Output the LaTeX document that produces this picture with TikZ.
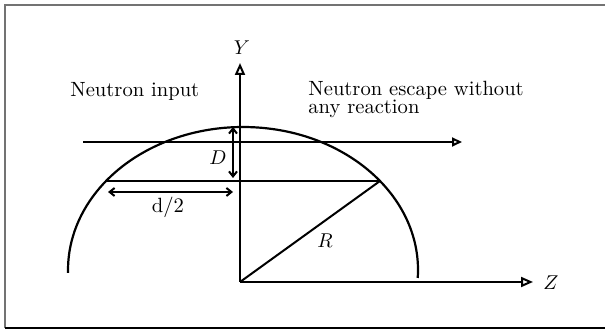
\documentclass[tikz,border=0pt]{standalone}
\usetikzlibrary{arrows.meta}
\begin{document}
\begin{tikzpicture}[x=0.5pt,y=0.5pt,
  ln/.style={line width=1pt,black},
  axisarrow/.style={ln,-{Triangle[open,length=6pt,width=5pt,line width=1pt]}},
  beamarrow/.style={ln,-{Triangle[open,length=5pt,width=4.5pt,line width=1pt]}},
  dimarrow/.style={line width=1pt,{Straight Barb[length=2.5pt,width=4pt]}-{Straight Barb[length=2.5pt,width=4pt]}},
  txt/.style={font=\fontsize{10.3pt}{12pt}\selectfont,inner sep=0pt,anchor=base west},
  lbl/.style={font=\fontsize{10.3pt}{12pt}\selectfont,inner sep=0pt}]
\useasboundingbox (0,0) rectangle (605,330);
% frame
\draw[line width=1pt,black!55] (5,2) -- (5,325) -- (605,325);
\draw[line width=1.2pt,black] (5,2) -- (605,2);
% coordinates
\coordinate (O) at (240,48);
\coordinate (Ytip) at (240,267);
\coordinate (Ztip) at (533,48);
\coordinate (C) at (243,60);
\coordinate (beamL) at (83,188);
\coordinate (beamR) at (462,188);
\coordinate (chL) at (106,149);
\coordinate (chR) at (380,149);
\coordinate (Dtop) at (233,203);
\coordinate (Dbot) at (233,152);
\coordinate (dL) at (108,138);
\coordinate (dR) at (233,138);
% arc
\draw[line width=1.1pt] ([shift={(-3.2:175 and 143)}]C) arc[start angle=-3.2,end angle=181.2,x radius=175,y radius=143];
% axes
\draw[axisarrow] (O) -- (Ytip);
\draw[axisarrow] (O) -- (Ztip);
% beam
\draw[beamarrow] (beamL) -- (beamR);
% chord and radius
\draw[ln] (chL) -- (chR);
\draw[ln] (O) -- (chR);
% dimensions
\draw[dimarrow] (Dtop) -- (Dbot);
\draw[dimarrow] (dL) -- (dR);
% labels
\node[lbl] (ylab) at (242,282) {$Y$};
\node[lbl] (zlab) at (551,47) {$Z$};
\node[lbl] (Dlab) at (218,172) {$D$};
\node[lbl] (dlab) at (168,123) {d/2};
\node[lbl] (Rlab) at (325,89) {$R$};
\node[txt] (inp) at (70,233) {Neutron input};
\node[txt] (esc1) at (308,234.5) {Neutron escape without};
\node[txt] (esc2) at (308,216) {any reaction};
\end{tikzpicture}
\end{document}
